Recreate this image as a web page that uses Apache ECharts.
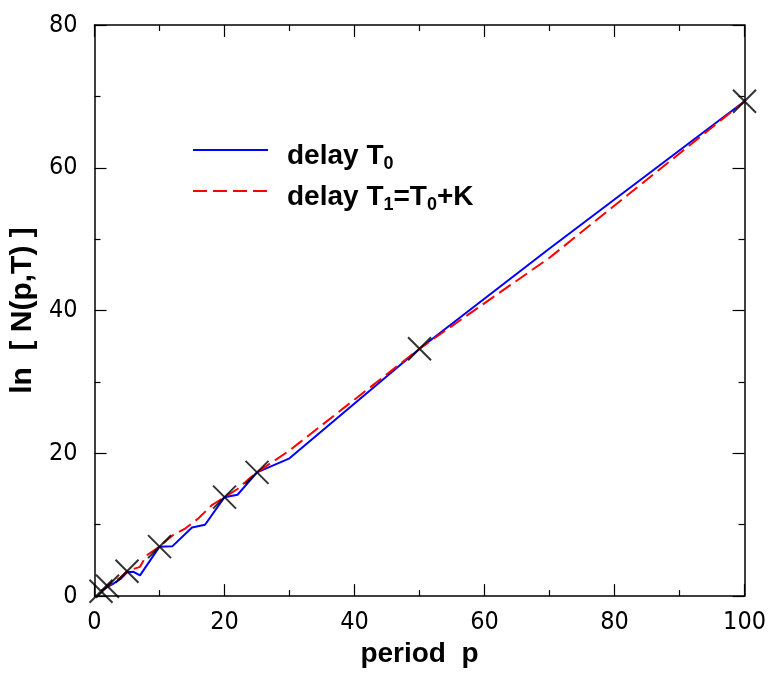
<!DOCTYPE html>
<html>
<head>
<meta charset="utf-8">
<script src="https://cdn.jsdelivr.net/npm/echarts@6/dist/echarts.min.js"></script>
<style>html,body{margin:0;padding:0;background:#fff}#c{width:769px;height:673px}</style>
</head>
<body>
<div id="c"></div>
<script>
const xTicks = [0, 20, 40, 60, 80, 100];
const yTicks = [0, 20, 40, 60, 80];

const blueP = [1, 2, 3, 4, 5, 6, 7, 10, 12, 15, 17, 20, 22, 25, 30, 50, 70, 100];
const blueV = [0.69, 1.3, 1.8, 2.4, 3.35, 3.4, 2.9, 6.93, 7.0, 9.6, 10.0, 13.86, 14.2, 17.33, 19.3, 34.66, 48.7, 69.31];

const redP = [1, 2, 3, 4, 5, 6, 7, 8, 9, 10, 12, 14, 16, 18, 20, 22, 24, 25, 30, 50, 70, 100];
const redV = [0.69, 1.39, 2.0, 2.6, 3.47, 3.8, 4.1, 5.7, 6.3, 6.93, 8.5, 9.5, 10.9, 12.7, 13.86, 15.0, 16.6, 17.33, 20.4, 34.66, 47.4, 69.31];

const markP = [1, 2, 5, 10, 20, 25, 50, 100];
const markV = [0.69, 1.39, 3.47, 6.93, 13.86, 17.33, 34.66, 69.31];

const legendNames = ['delay T0', 'delay T1=T0+K'];

const zip = (a, b) => a.map((v, i) => [v, b[i]]);
const tickFont = "'Liberation Sans Narrow', 'DejaVu Sans Condensed', sans-serif";
const boldFont = "'Liberation Sans', Arial, sans-serif";

function axisBase(showLabel) {
  return {
    axisLine: { show: true, onZero: false, lineStyle: { color: '#000', width: 1.5 } },
    axisTick: { show: true, inside: true, length: 12, lineStyle: { color: '#000', width: 1.2 } },
    minorTick: { show: true, splitNumber: 2, length: 6, lineStyle: { color: '#000', width: 1.2 } },
    splitLine: { show: false },
    axisLabel: { show: showLabel, fontFamily: tickFont, fontSize: 25, color: '#000', margin: 14 }
  };
}

const richStyle = {
  a: { fontFamily: boldFont, fontWeight: 'bold', fontSize: 28, color: '#000' },
  s: { fontFamily: boldFont, fontWeight: 'bold', fontSize: 18, color: '#000', padding: [16, 0, 0, 0] }
};

const chart = echarts.init(document.getElementById('c'), null, { renderer: 'canvas' });
chart.setOption({
  animation: false,
  backgroundColor: '#fff',
  grid: { left: 94, right: 24, top: 25, bottom: 69, containLabel: false },
  xAxis: [
    Object.assign(axisBase(true), {
      type: 'value', min: xTicks[0], max: xTicks[xTicks.length - 1], interval: 20, position: 'bottom',
      name: 'period  p', nameLocation: 'middle', nameGap: 25,
      nameTextStyle: { fontFamily: boldFont, fontWeight: 'bold', fontSize: 28, color: '#000' }
    }),
    Object.assign(axisBase(false), {
      type: 'value', min: xTicks[0], max: xTicks[xTicks.length - 1], interval: 20, position: 'top'
    })
  ],
  yAxis: [
    Object.assign(axisBase(true), {
      type: 'value', min: yTicks[0], max: yTicks[yTicks.length - 1], interval: 20, position: 'left',
      axisLabel: { show: true, fontFamily: tickFont, fontSize: 25, color: '#000', margin: 17 },
      name: 'ln  [ N(p,T) ]', nameLocation: 'middle', nameGap: 47,
      nameTextStyle: { fontFamily: boldFont, fontWeight: 'bold', fontSize: 30, color: '#000' }
    }),
    Object.assign(axisBase(false), {
      type: 'value', min: yTicks[0], max: yTicks[yTicks.length - 1], interval: 20, position: 'right'
    })
  ],
  graphic: [
    { type: 'line', shape: { x1: 193, y1: 150, x2: 268, y2: 150 }, style: { stroke: '#0000ff', lineWidth: 2 } },
    { type: 'line', shape: { x1: 193, y1: 191, x2: 268, y2: 191 }, style: { stroke: '#ff0000', lineWidth: 2, lineDash: [14, 6] } },
    { type: 'text', x: 287, y: 139, style: { text: '{a|delay T}{s|0}', rich: richStyle } },
    { type: 'text', x: 287, y: 180, style: { text: '{a|delay T}{s|1}{a|=T}{s|0}{a|+K}', rich: richStyle } }
  ],
  series: [
    {
      name: legendNames[0], type: 'line', data: zip(blueP, blueV), symbol: 'none',
      lineStyle: { color: '#0000ff', width: 2 }, itemStyle: { color: '#0000ff' }, z: 3
    },
    {
      name: legendNames[1], type: 'line', data: zip(redP, redV), symbol: 'none',
      lineStyle: { color: '#ff0000', width: 2, type: [14, 6] }, itemStyle: { color: '#ff0000' }, z: 4
    },
    {
      name: 'points', type: 'scatter', data: zip(markP, markV),
      symbol: 'path://M0,0L10,10M10,0L0,10', symbolSize: 23,
      itemStyle: { color: 'none', borderColor: '#000', borderWidth: 2 }, z: 5
    }
  ]
});
</script>
</body>
</html>
